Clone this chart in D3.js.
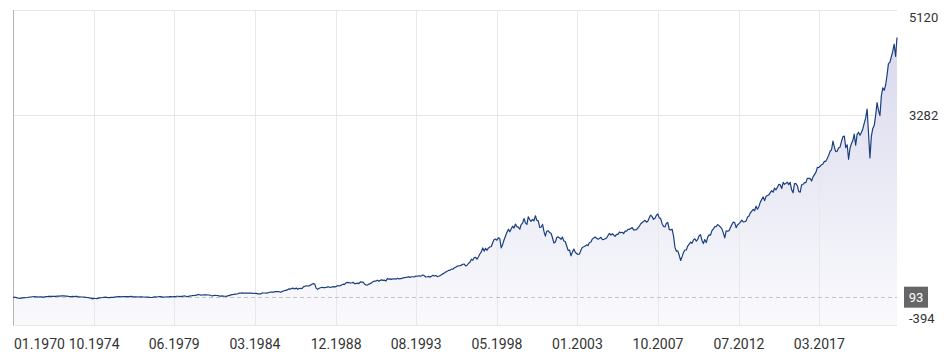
<!DOCTYPE html>
<html><head><meta charset="utf-8">
<script src="https://cdn.jsdelivr.net/npm/d3@7"></script>
<style>
body{margin:0;background:#fff;}
text{font-family:Roboto,"Noto Sans",sans-serif;}
</style>
</head><body>
<svg id="chart" width="951" height="358"></svg>
<script>
// Monthly index values, starting January 1970
const startMonth = "1970-01-01";
const values = [
93,89.50,89.63,81.52,76.55,72.72,78.05,81.52,84.21,83.25,87.20,92.15,
95.88,96.75,100.31,103.95,99.63,99.70,95.58,99.03,98.34,94.23,93.99,102.09,
103.94,106.57,107.20,107.67,109.53,107.14,107.39,111.09,110.55,111.58,116.67,118.05,
116.03,111.68,111.52,106.97,104.95,104.26,108.22,104.25,108.43,108.29,95.96,97.55,
96.57,96.22,93.98,90.31,87.28,86.00,79.31,72.15,63.54,73.90,69.97,68.56,
76.98,81.59,83.36,87.30,91.15,95.19,88.75,86.88,83.87,89.04,91.24,90.19,
100.86,99.71,102.77,101.64,100.18,104.28,103.44,102.91,105.24,102.90,102.10,107.46,
102.03,99.82,98.42,98.44,96.12,100.48,98.85,96.77,96.53,92.34,94.83,95.10,
89.25,87.04,89.21,96.83,97.24,95.53,100.68,103.29,102.54,93.15,94.70,96.11,
99.93,96.28,101.59,101.76,99.08,102.91,103.81,109.32,109.32,101.82,106.16,107.94,
114.16,113.66,102.09,106.29,111.24,114.24,121.67,122.38,125.46,127.47,140.52,135.76,
129.55,131.27,136.00,132.81,132.59,131.21,130.92,122.79,116.18,121.89,126.35,122.55,
120.40,113.11,111.96,116.44,111.88,109.61,107.09,119.51,120.42,133.71,138.54,140.64,
145.30,148.06,152.96,164.42,162.39,168.11,162.56,164.40,166.07,163.55,166.40,164.93,
163.41,157.06,159.18,160.05,150.55,153.18,150.66,166.68,166.10,166.09,163.58,167.24,
179.63,181.18,180.66,179.83,189.55,191.85,190.92,188.63,182.08,189.82,202.17,211.28,
211.78,226.92,238.90,235.52,247.35,250.84,236.12,252.93,231.32,243.98,249.22,242.17,
274.08,284.20,291.70,288.36,290.10,304.00,318.66,329.80,321.83,251.79,230.30,247.08,
257.07,267.82,258.89,261.33,262.16,273.50,272.02,261.52,271.91,278.97,273.70,277.72,
297.47,288.86,294.87,309.64,320.52,317.98,346.08,351.45,349.15,340.36,345.99,353.40,
329.08,331.89,339.94,330.80,361.23,358.02,356.15,322.56,306.05,304.00,322.22,330.22,
343.93,367.07,375.22,375.35,389.83,371.16,387.81,395.43,387.86,392.46,375.22,417.09,
408.79,412.70,403.69,414.95,415.35,408.14,424.21,414.03,417.80,418.68,431.35,435.71,
438.78,443.38,451.67,440.19,450.19,450.53,448.13,463.56,458.93,467.83,461.79,466.45,
481.61,467.14,445.77,450.91,456.50,444.27,458.26,475.49,462.69,472.35,453.69,459.27,
470.42,487.39,500.71,514.71,533.40,544.75,562.06,561.88,584.41,581.50,605.37,615.93,
636.02,640.43,645.50,654.17,669.12,670.63,639.95,651.99,687.33,705.27,757.02,740.74,
786.16,790.82,757.12,801.34,848.28,885.14,954.31,899.47,947.28,914.62,955.40,970.43,
980.28,1049.34,1101.75,1111.75,1090.82,1133.84,1120.67,957.28,1017.01,1098.67,1163.63,1229.23,
1279.64,1238.33,1286.37,1335.18,1301.84,1372.71,1328.72,1320.41,1282.71,1362.93,1388.91,1469.25,
1394.46,1366.42,1498.58,1452.43,1420.60,1454.60,1430.83,1517.68,1436.51,1429.40,1314.95,1320.28,
1366.01,1239.94,1160.33,1249.46,1255.82,1224.42,1211.23,1133.58,1040.94,1059.78,1139.45,1148.08,
1130.20,1106.73,1147.39,1076.92,1067.14,989.82,911.62,916.07,815.28,885.76,936.31,879.82,
855.70,841.15,848.18,916.92,963.59,974.50,990.31,1008.01,995.97,1050.71,1058.20,1111.92,
1131.13,1144.94,1126.21,1107.30,1120.68,1140.84,1101.72,1104.24,1114.58,1130.20,1173.82,1211.92,
1181.27,1203.60,1180.59,1156.85,1191.50,1191.33,1234.18,1220.33,1228.81,1207.01,1249.48,1248.29,
1280.08,1280.66,1294.83,1310.61,1270.09,1270.20,1276.66,1303.82,1335.85,1377.94,1400.63,1418.30,
1438.24,1406.82,1420.86,1482.37,1530.62,1503.35,1455.27,1473.99,1526.75,1549.38,1481.14,1468.36,
1378.55,1330.63,1322.70,1385.59,1400.38,1280.00,1267.38,1282.83,1166.36,968.75,896.24,903.25,
825.88,735.09,797.87,872.81,919.14,919.32,987.48,1020.62,1057.08,1036.19,1095.63,1115.10,
1073.87,1104.49,1169.43,1186.69,1089.41,1030.71,1101.60,1049.33,1141.20,1183.26,1180.55,1257.64,
1286.12,1327.22,1325.83,1363.61,1345.20,1320.64,1292.28,1218.89,1131.42,1253.30,1246.96,1257.60,
1312.41,1365.68,1408.47,1397.91,1310.33,1362.16,1379.32,1406.58,1440.67,1412.16,1416.18,1426.19,
1498.11,1514.68,1569.19,1597.57,1630.74,1606.28,1685.73,1632.97,1681.55,1756.54,1805.81,1848.36,
1782.59,1859.45,1872.34,1883.95,1923.57,1960.23,1930.67,2003.37,1972.29,2018.05,2067.56,2058.90,
1994.99,2104.50,2067.89,2085.51,2107.39,2063.11,2103.84,1972.18,1920.03,2079.36,2080.41,2043.94,
1940.24,1932.23,2059.74,2065.30,2096.95,2098.86,2173.60,2170.95,2168.27,2126.15,2198.81,2238.83,
2278.87,2363.64,2362.72,2384.20,2411.80,2423.41,2470.30,2471.65,2519.36,2575.26,2647.58,2673.61,
2823.81,2713.83,2640.87,2648.05,2705.27,2718.37,2816.29,2901.52,2913.98,2711.74,2760.17,2506.85,
2704.10,2784.49,2834.40,2945.83,2752.06,2941.76,2980.38,2926.46,2976.74,3037.56,3140.98,3230.78,
3386.15,2954.22,2530.00,2912.43,3044.31,3100.29,3271.12,3500.31,3363.00,3269.96,3621.63,3756.07,
3714.24,3811.15,3972.89,4181.17,4204.11,4297.50,4395.26,4522.68,4307.54,4640.00
];
const yTickValues = [-394, 3282, 5120];
const yDomain = [-394, 5120];
const xTickDates = ["1970-01-01","1974-10-01","1979-06-10","1984-03-01","1988-12-01","1993-08-07","1998-05-01","2003-01-15","2007-10-05","2012-07-01","2017-03-15"];

const svg = d3.select("#chart");
const mLeft = 13, mRight = 897, mTop = 10, mBottom = 325;
const t0 = d3.utcParse("%Y-%m-%d")(startMonth);
const data = values.map((v, i) => ({date: d3.utcMonth.offset(t0, i), value: v}));

const x = d3.scaleUtc().domain(d3.extent(data, d => d.date)).range([mLeft, mRight]);
const y = d3.scaleLinear().domain(yDomain).range([mBottom, mTop]);

const defs = svg.append("defs");
const grad = defs.append("linearGradient").attr("id", "fillGrad")
  .attr("gradientUnits", "userSpaceOnUse").attr("x1", 0).attr("x2", 0).attr("y1", mTop).attr("y2", mBottom);
grad.append("stop").attr("offset", "0%").attr("stop-color", "#d6d6ec");
grad.append("stop").attr("offset", "100%").attr("stop-color", "#fafafd");

// area
svg.append("path").datum(data)
  .attr("fill", "url(#fillGrad)")
  .attr("d", d3.area().x(d => x(d.date)).y0(mBottom).y1(d => y(d.value)));

// horizontal grid
svg.append("g").selectAll("line").data(yTickValues).join("line")
  .attr("x1", mLeft).attr("x2", mRight)
  .attr("y1", d => Math.round(y(d)) + 0.5).attr("y2", d => Math.round(y(d)) + 0.5)
  .attr("stroke", "#e6e6e6").attr("stroke-width", 1);

// vertical grid
const tickDates = xTickDates.map(d3.utcParse("%Y-%m-%d"));
svg.append("g").selectAll("line").data(tickDates.slice(1)).join("line")
  .attr("x1", d => Math.round(x(d)) + 0.5).attr("x2", d => Math.round(x(d)) + 0.5)
  .attr("y1", mTop).attr("y2", mBottom)
  .attr("stroke", "#e8e8e8").attr("stroke-width", 1);

// left axis line
svg.append("line").attr("x1", mLeft + 0.5).attr("x2", mLeft + 0.5).attr("y1", mTop).attr("y2", mBottom)
  .attr("stroke", "#b4b4b4").attr("stroke-width", 1);

// reference dashed line at first value
const first = values[0];
svg.append("line").attr("x1", mLeft).attr("x2", mRight)
  .attr("y1", Math.round(y(first)) + 0.5).attr("y2", Math.round(y(first)) + 0.5)
  .attr("stroke", "#c4c4c4").attr("stroke-dasharray", "4,3").attr("stroke-width", 1);

// line
svg.append("path").datum(data)
  .attr("fill", "none").attr("stroke", "#1b3f7e").attr("stroke-width", 1.2)
  .attr("stroke-linejoin", "round")
  .attr("d", d3.line().x(d => x(d.date)).y(d => y(d.value)));

// x labels
const fmt = d3.utcFormat("%m.%Y");
svg.append("g").selectAll("text").data(tickDates).join("text")
  .attr("x", (d, i) => i === 0 ? x(d) + 1 : x(d))
  .attr("y", 349)
  .attr("text-anchor", (d, i) => i === 0 ? "start" : "middle")
  .attr("font-size", 14).attr("fill", "#333")
  .text(fmt);

// y labels
svg.append("g").selectAll("text").data(yTickValues).join("text")
  .attr("x", 909)
  .attr("y", d => d === yDomain[1] ? y(d) + 12 : (d === yDomain[0] ? y(d) - 2 : y(d) + 5))
  .attr("font-size", 13).attr("fill", "#333")
  .text(d => d);

// start value badge
const by = y(first);
svg.append("rect").attr("x", 904).attr("y", by - 10.5).attr("width", 24).attr("height", 21).attr("fill", "#666");
svg.append("text").attr("x", 916).attr("y", by + 5).attr("text-anchor", "middle")
  .attr("font-size", 13).attr("fill", "#fff").text(Math.round(first));
</script>
</body></html>
